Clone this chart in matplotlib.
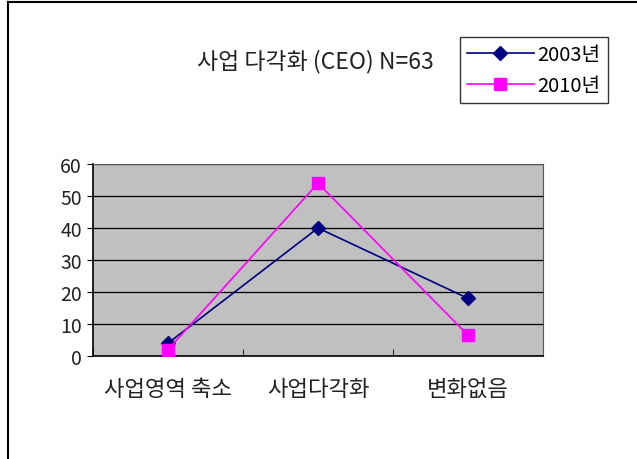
import matplotlib
matplotlib.use("Agg")
import matplotlib.pyplot as plt
from matplotlib.lines import Line2D

plt.rcParams['font.family'] = ['Noto Sans CJK KR', 'DejaVu Sans']

# survey results (%), CEO responses
categories = ["사업영역 축소", "사업다각화", "변화없음"]
series_2003 = [4, 40, 18]
series_2010 = [2, 54, 6.5]
y_ticks = [0, 10, 20, 30, 40, 50, 60]

W, H = 637, 460
fig = plt.figure(figsize=(W / 100, H / 100), dpi=100)

# outer frame (left and top edges)
fig.add_artist(Line2D([8 / W, 8 / W], [0, 1 - 3 / H], color='black', lw=1.5))
fig.add_artist(Line2D([8 / W, 1], [1 - 3 / H, 1 - 3 / H], color='black', lw=1.5))

ax = fig.add_axes([93 / W, (H - 357) / H, 450 / W, 192 / H])
ax.set_facecolor('#C0C0C0')

x = range(len(categories))
ax.plot(x, series_2003, color='#000080', marker='D', markersize=7, lw=1.2,
        label='2003년', zorder=3)
ax.plot(x, series_2010, color='#FF00FF', marker='s', markersize=8, lw=1.2,
        label='2010년', zorder=4)

ax.set_xlim(-0.5, 2.5)
ax.set_ylim(0, 60)
ax.set_yticks(y_ticks)
ax.set_yticklabels([str(v) for v in y_ticks], fontsize=14, color='#222222')
ax.yaxis.grid(True, color='black', lw=0.9)
ax.set_axisbelow(True)

ax.set_xticks(list(x))
ax.set_xticklabels(categories, fontsize=16, color='#222222')
ax.tick_params(axis='x', length=0, pad=15)
ax.set_xticks([-0.5, 0.5, 1.5, 2.5], minor=True)
ax.tick_params(axis='x', which='minor', direction='in', length=5, color='black')
ax.tick_params(axis='y', length=4, pad=4, color='black')

for side in ['left', 'bottom']:
    ax.spines[side].set_color('black')
    ax.spines[side].set_linewidth(1.2)
for side in ['top', 'right']:
    ax.spines[side].set_color('#555555')
    ax.spines[side].set_linewidth(0.8)

fig.text(315 / W, 1 - 62 / H, "사업 다각화 (CEO) N=63", fontsize=16.5,
         ha='center', va='center', color='#222222')

leg = ax.legend(loc='upper left', bbox_to_anchor=(460 / W, 1 - 38 / H),
                bbox_transform=fig.transFigure, fontsize=14.5, frameon=True,
                fancybox=False, edgecolor='black', borderpad=0.35,
                handlelength=3.3, handletextpad=0.2, labelspacing=0.5,
                borderaxespad=0)
leg.get_frame().set_linewidth(1.0)

fig.savefig("out.png", dpi=100)
